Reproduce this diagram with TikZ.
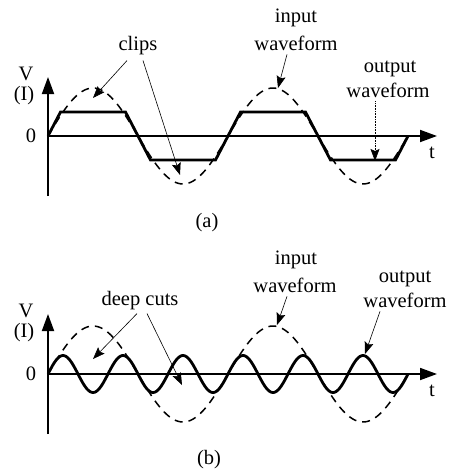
\documentclass[tikz,border=0pt]{standalone}
\usepackage{fontspec}
\setmainfont{Liberation Serif}
\usetikzlibrary{arrows.meta}
\tikzset{
  axis/.style={line width=1.8pt,-{Triangle[length=17pt,width=12pt]}},
  inwave/.style={line width=1.5pt,dash pattern=on 8pt off 6pt},
  outwave/.style={line width=2.8pt,line join=miter},
  lbl/.style={line width=0.6pt,-{Stealth[length=12pt,width=9pt,inset=2pt]}},
  txt/.style={font=\fontsize{20.5}{24}\selectfont,anchor=base,inner sep=0pt},
}
\begin{document}
\begin{tikzpicture}[x=1pt,y=-1pt]
\useasboundingbox (0,0) rectangle (451,474);
% ---------------- panel (a) ----------------
\coordinate (ao) at (48,136);
\coordinate (ab) at (48,196);
\coordinate (at) at (48,77);
\coordinate (ar) at (437,136);
\draw[axis] (ab) -- (at);
\draw[axis] (ao) -- (ar);
\draw[inwave] plot[domain=48:408,samples=150,smooth] (\x,{136-48*sin(2*(\x-48))});
\draw[outwave] (48,136) -- (60.5,112) -- (125.5,112) -- (150.5,160) -- (215.5,160)
  -- (240.5,112) -- (305.5,112) -- (330.5,160) -- (395.5,160) -- (408,136);
\node[txt] (aV) at (26,80) {V};
\node[txt] (aI) at (24,100) {(I)};
\node[txt] (a0) at (31,142) {0};
\node[txt] (atl) at (432,158) {t};
\node[txt] (aclips) at (138,50) {clips};
\node[txt] (ain1) at (296,22) {input};
\node[txt] (ain2) at (296,50) {waveform};
\node[txt] (aout1) at (390,72) {output};
\node[txt] (aout2) at (388,97) {waveform};
\node[txt] (acap) at (207,227) {(a)};
\coordinate (ac1) at (93,98);
\coordinate (ac2) at (180,175);
\coordinate (aint) at (278,88);
\coordinate (aoutt) at (375,161);
\draw[lbl] ([xshift=-11pt,yshift=-6pt]aclips.south) -- (ac1);
\draw[lbl] ([xshift=5pt,yshift=-6pt]aclips.south) -- (ac2);
\draw[lbl] ([xshift=-9pt,yshift=-4pt]ain2.south) -- (aint);
\draw[lbl,densely dotted] ([xshift=-13pt,yshift=-4pt]aout2.south) -- (aoutt);
% ---------------- panel (b) ----------------
\coordinate (bo) at (48,374);
\coordinate (bb) at (48,434);
\coordinate (bt) at (48,314);
\coordinate (br) at (437,374);
\draw[axis] (bb) -- (bt);
\draw[axis] (bo) -- (br);
\draw[inwave] plot[domain=48:408,samples=150,smooth] (\x,{374-48*sin(2*(\x-48))});
\draw[outwave] plot[domain=48:408,samples=240,smooth] (\x,{374-18.5*sin(6*(\x-48))});
\node[txt] (bV) at (26,317) {V};
\node[txt] (bI) at (24,337) {(I)};
\node[txt] (b0) at (31,380) {0};
\node[txt] (btt) at (432,396) {t};
\node[txt] (bcuts) at (140,305) {deep cuts};
\node[txt] (bin1) at (296,264) {input};
\node[txt] (bin2) at (295,292) {waveform};
\node[txt] (bout1) at (405,282) {output};
\node[txt] (bout2) at (405,307) {waveform};
\node[txt] (bcap) at (209,464) {(b)};
\coordinate (bc1) at (93,359);
\coordinate (bc2) at (182,385);
\coordinate (bint) at (277,325);
\coordinate (boutt) at (365,354);
\draw[lbl] ([xshift=-3pt,yshift=-4pt]bcuts.south) -- (bc1);
\draw[lbl] ([xshift=7pt,yshift=-4pt]bcuts.south) -- (bc2);
\draw[lbl] ([xshift=-8pt,yshift=-4pt]bin2.south) -- (bint);
\draw[lbl] ([xshift=-25pt,yshift=-4pt]bout2.south) -- (boutt);
\end{tikzpicture}
\end{document}
